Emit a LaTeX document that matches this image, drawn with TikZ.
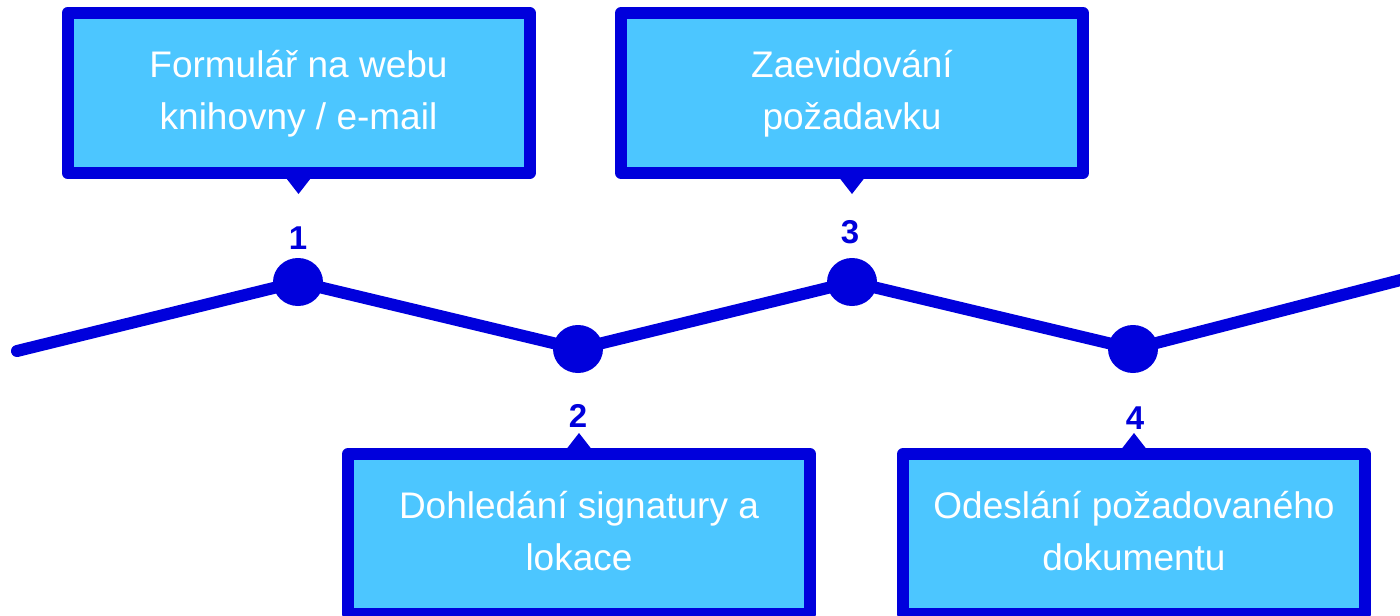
\documentclass[tikz,border=0pt]{standalone}
\usepackage{fontspec}
\setmainfont{Liberation Sans}
\usetikzlibrary{shapes.geometric}
\definecolor{lineblue}{RGB}{0,0,220}
\definecolor{boxblue}{RGB}{76,198,255}

\begin{document}
\begin{tikzpicture}[x=0.5pt,y=-0.5pt,
    stepbox/.style={draw=lineblue,fill=boxblue,line width=6pt,line join=round,
        minimum width=231pt,minimum height=80pt,inner sep=0pt,align=center,
        text=white,font=\fontsize{18.5}{26}\selectfont},
    stepdot/.style={ellipse,fill=lineblue,minimum width=25pt,minimum height=24pt,inner sep=0pt},
    stepnum/.style={text=lineblue,font=\fontsize{16.5}{20}\selectfont\bfseries,inner sep=0pt},
    pointer/.style={fill=lineblue},
    timeline/.style={draw=lineblue,line width=6pt,line cap=round,line join=round}]
    \useasboundingbox(0,0)rectangle(1400,615);
    \clip(0,0)rectangle(1400,615);

    % the line with its four steps
    \coordinate(start)at(17,351);
    \coordinate(end)at(1420,275);
    \node[stepdot](d1)at(298,282){};
    \node[stepdot](d2)at(578,349){};
    \node[stepdot](d3)at(852,282){};
    \node[stepdot](d4)at(1133,349){};
    \draw[timeline](start)--(d1.center)--(d2.center)--(d3.center)--(d4.center)--(end);

    \node[stepnum](n1)at(298,238){1};
    \node[stepnum](n2)at(578,416){2};
    \node[stepnum](n3)at(850,232){3};
    \node[stepnum](n4)at(1135,418){4};

    % boxes
    \node[stepbox](box1)at(298.5,93){\strut Formulář na webu\\\strut knihovny / e-mail};
    \node[stepbox](box3)at(852,93){\strut Zaevidování\\\strut požadavku};
    \node[stepbox](box2)at(579,534){\strut Dohledání signatury a\\\strut lokace};
    \node[stepbox](box4)at(1134,534){\strut Odeslání požadovaného\\\strut dokumentu};

    \fill[pointer](box1.south)++(-14,-3)--++(28,0)--++(-14,18)--cycle;
    \fill[pointer](box3.south)++(-14,-3)--++(28,0)--++(-14,18)--cycle;
    \fill[pointer](box2.north)++(-14,3)--++(28,0)--++(-14,-18)--cycle;
    \fill[pointer](box4.north)++(-14,3)--++(28,0)--++(-14,-18)--cycle;
\end{tikzpicture}
\end{document}
